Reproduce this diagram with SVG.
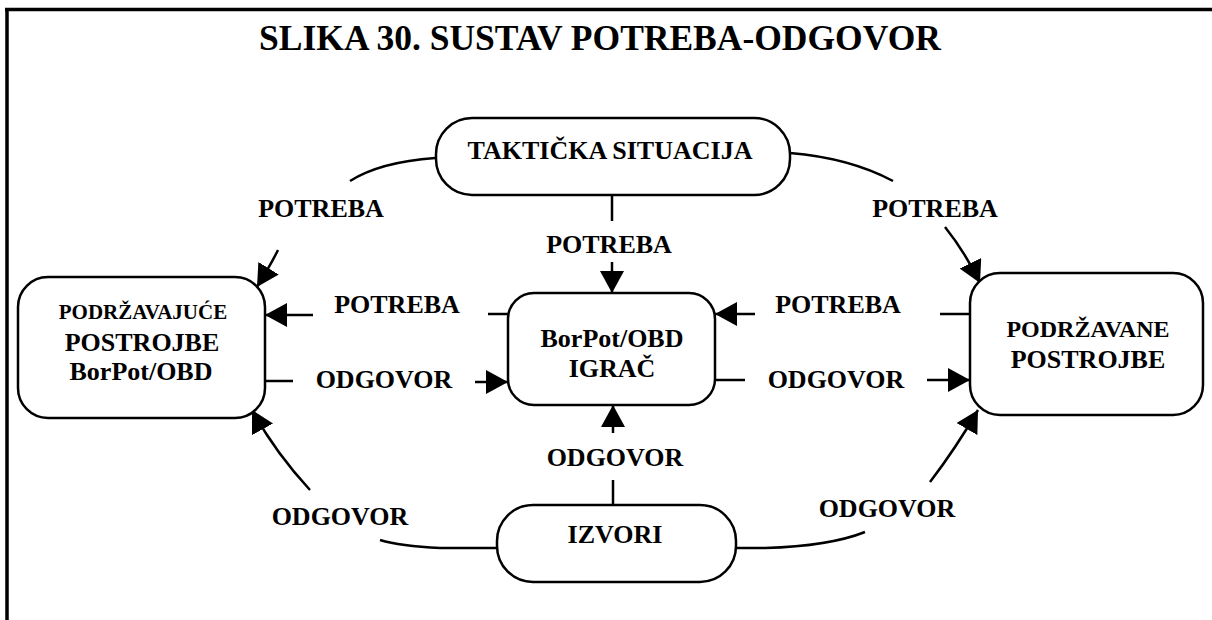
<svg xmlns="http://www.w3.org/2000/svg" width="1212" height="620" viewBox="0 0 1212 620">
  <defs>
    <style>
      text { font-family: "Liberation Serif", "Times New Roman", serif; font-weight: bold; fill: #000; text-anchor: middle; }
      .lbl { font-size: 26px; }
      .small { font-size: 21px; }
      .mid { font-size: 24px; }
      .title { font-size: 35.5px; }
      .box { fill: #fff; stroke: #000; stroke-width: 2.5; }
      .con { fill: none; stroke: #000; stroke-width: 2.5; }
      .arr { fill: none; stroke: #000; stroke-width: 2.5; marker-end: url(#head); }
    </style>
    <marker id="head" markerUnits="userSpaceOnUse" markerWidth="24" markerHeight="24" refX="22" refY="12" orient="auto">
      <path d="M0,0 L22,12 L0,24 Z" fill="#000"/>
    </marker>
  </defs>

  <rect width="1212" height="620" fill="#fff"/>

  <!-- frame -->
  <g id="frame" stroke="#000" stroke-width="3.5" fill="none">
    <line x1="5" y1="9.5" x2="1212" y2="9.5"/>
    <line x1="7" y1="8" x2="7" y2="620"/>
  </g>

  <text class="title" x="600" y="50">SLIKA 30. SUSTAV POTREBA-ODGOVOR</text>

  <!-- connectors -->
  <g id="connectors">
    <!-- situation to supporting units -->
    <path class="con" d="M435,158 Q380,162 350,181"/>
    <path class="arr" d="M278,250 Q270,266 257,287"/>
    <!-- situation to supported units -->
    <path class="con" d="M790,153 Q850,158 893,181"/>
    <path class="arr" d="M945,227 Q965,252 980,283"/>
    <!-- situation to player -->
    <line class="con" x1="612" y1="195" x2="612" y2="221"/>
    <path class="arr" d="M612,262 L612,293"/>
    <!-- player to supporting units -->
    <line class="con" x1="488" y1="314" x2="508" y2="314"/>
    <path class="arr" d="M313,315 L265,315"/>
    <!-- supporting units to player -->
    <line class="con" x1="265" y1="381" x2="293" y2="381"/>
    <path class="arr" d="M475,382 L508,382"/>
    <!-- supported units to player -->
    <line class="con" x1="940" y1="314" x2="970" y2="314"/>
    <path class="arr" d="M755,314 L715,314"/>
    <!-- player to supported units -->
    <line class="con" x1="715" y1="380" x2="745" y2="380"/>
    <path class="arr" d="M927,380 L970,380"/>
    <!-- resources to player -->
    <line class="con" x1="613" y1="505" x2="613" y2="480"/>
    <path class="arr" d="M613,433 L613,405"/>
    <!-- resources to supporting units -->
    <path class="con" d="M497,548 L440,548 Q400,546 380,540"/>
    <path class="arr" d="M310,490 Q275,452 252,410"/>
    <!-- resources to supported units -->
    <path class="con" d="M736,548 L765,548 Q830,546 865,532"/>
    <path class="arr" d="M930,482 Q956,448 978,410"/>
  </g>

  <!-- connector labels -->
  <g id="labels">
    <text class="lbl" x="321" y="217">POTREBA</text>
    <text class="lbl" x="935" y="217">POTREBA</text>
    <text class="lbl" x="609" y="253">POTREBA</text>
    <text class="lbl" x="397" y="313">POTREBA</text>
    <text class="lbl" x="838" y="313">POTREBA</text>
    <text class="lbl" x="384" y="388">ODGOVOR</text>
    <text class="lbl" x="836" y="388">ODGOVOR</text>
    <text class="lbl" x="615" y="466">ODGOVOR</text>
    <text class="lbl" x="340" y="525">ODGOVOR</text>
    <text class="lbl" x="887" y="517">ODGOVOR</text>
  </g>

  <g id="takticka-situacija">
    <rect class="box" x="436" y="118" width="354" height="77" rx="36"/>
    <text class="lbl" x="610" y="159">TAKTIČKA SITUACIJA</text>
  </g>

  <g id="podrzavajuce-postrojbe">
    <rect class="box" x="18" y="277" width="247" height="141" rx="30"/>
    <text class="small" x="143" y="319">PODRŽAVAJUĆE</text>
    <text class="lbl" x="142" y="351">POSTROJBE</text>
    <text class="lbl" x="141" y="380">BorPot/OBD</text>
  </g>

  <g id="igrac">
    <rect class="box" x="508" y="293" width="207" height="112" rx="26"/>
    <text class="lbl" x="612" y="347">BorPot/OBD</text>
    <text class="lbl" x="612" y="377">IGRAČ</text>
  </g>

  <g id="podrzavane-postrojbe">
    <rect class="box" x="970" y="273" width="233" height="142" rx="30"/>
    <text class="mid" x="1088" y="337">PODRŽAVANE</text>
    <text class="lbl" x="1088" y="368">POSTROJBE</text>
  </g>

  <g id="izvori">
    <rect class="box" x="497" y="505" width="239" height="77" rx="36"/>
    <text class="lbl" x="615" y="543">IZVORI</text>
  </g>
</svg>
